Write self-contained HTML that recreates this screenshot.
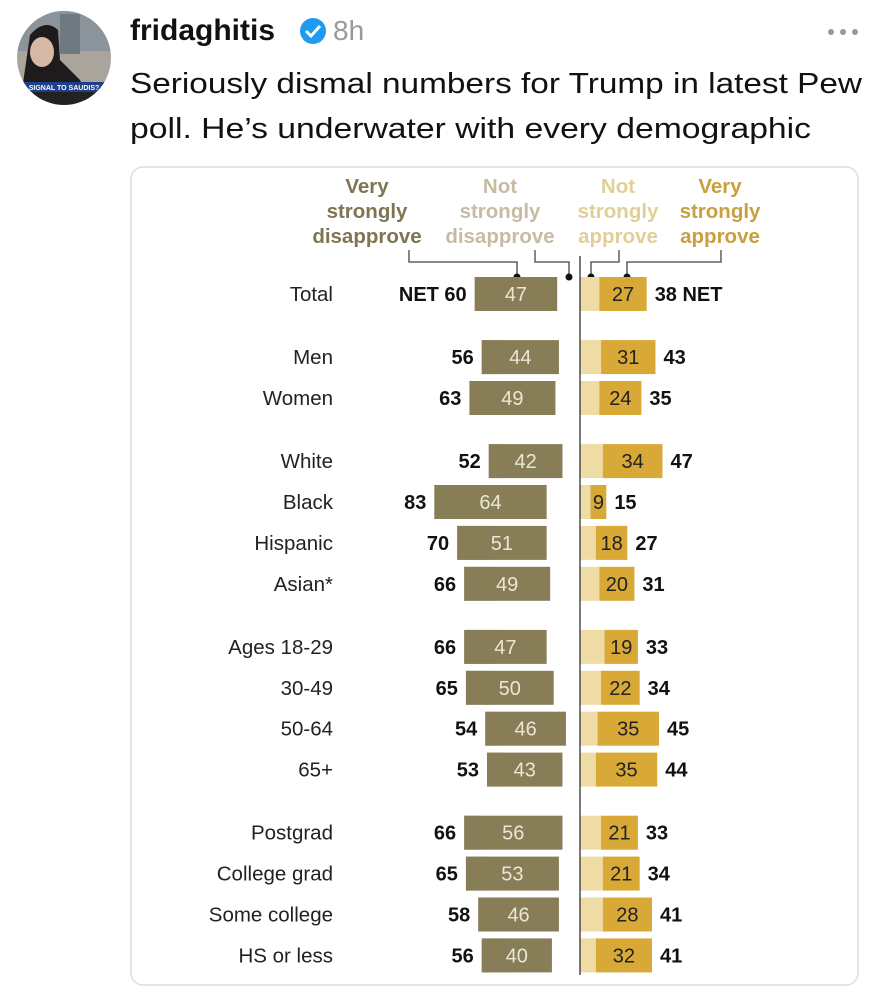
<!DOCTYPE html>
<html><head><meta charset="utf-8"><style>
html,body{margin:0;padding:0;background:#fff;}
svg{display:block;font-family:"Liberation Sans",sans-serif;}
</style></head><body>
<svg id="root" width="893" height="1000" viewBox="0 0 893 1000">
  <defs><clipPath id="av"><circle cx="64" cy="58" r="47"/></clipPath></defs>
  <g clip-path="url(#av)">
    <rect x="17" y="11" width="94" height="94" fill="#a9a49c"/>
    <rect x="17" y="11" width="94" height="40" fill="#8b949a"/>
    <rect x="60" y="14" width="20" height="40" fill="#6f7a80"/>
    <path d="M22 90 L30 35 Q45 18 58 30 L60 60 L80 80 L90 100 L20 100Z" fill="#1d1b1c"/>
    <ellipse cx="42" cy="52" rx="12" ry="15" fill="#d7b8a4"/>
    <rect x="17" y="82" width="94" height="10" fill="#1e3f8a"/>
    <text x="64" y="90" font-size="7" fill="#fff" text-anchor="middle" font-weight="bold">SIGNAL TO SAUDIS?</text>
    <rect x="17" y="92" width="94" height="13" fill="#222"/>
  </g>
  <text x="130" y="40" font-size="30" font-weight="bold" fill="#111">fridaghitis</text>
  <g>
    <circle cx="313" cy="31" r="13" fill="#1d9bf0"/>
    <path d="M306 31 l5 5 l9 -10" stroke="#fff" stroke-width="3" fill="none"/>
  </g>
  <text x="333" y="40" font-size="28" fill="#999">8h</text>
  <g fill="#999">
    <circle cx="831" cy="32" r="3"/><circle cx="843" cy="32" r="3"/><circle cx="855" cy="32" r="3"/>
  </g>
  <text x="130" y="93" font-size="29" fill="#111" textLength="732" lengthAdjust="spacingAndGlyphs">Seriously dismal numbers for Trump in latest Pew</text>
  <text x="130" y="138" font-size="29" fill="#111" textLength="681" lengthAdjust="spacingAndGlyphs">poll. He’s underwater with every demographic</text>
  <rect x="131" y="167" width="727" height="818" rx="12" fill="#fff" stroke="#dedede" stroke-width="1.5"/>

  <g font-weight="bold" font-size="20.5" text-anchor="middle">
    <text fill="#7e7652"><tspan x="367" y="193">Very</tspan><tspan x="367" y="218">strongly</tspan><tspan x="367" y="243">disapprove</tspan></text>
    <text fill="#c6bca3"><tspan x="500" y="193">Not</tspan><tspan x="500" y="218">strongly</tspan><tspan x="500" y="243">disapprove</tspan></text>
    <text fill="#e2cf97"><tspan x="618" y="193">Not</tspan><tspan x="618" y="218">strongly</tspan><tspan x="618" y="243">approve</tspan></text>
    <text fill="#c9a03f"><tspan x="720" y="193">Very</tspan><tspan x="720" y="218">strongly</tspan><tspan x="720" y="243">approve</tspan></text>
    <g stroke="#444" stroke-width="1.3" fill="none">
      <path d="M409 250 V262 H517 V276"/>
      <path d="M535 250 V262 H569 V276"/>
      <path d="M619 250 V262 H591 V276"/>
      <path d="M721 250 V262 H627 V276"/>
    </g>
    <g fill="#111"><circle cx="517" cy="277" r="3.5"/><circle cx="569" cy="277" r="3.5"/><circle cx="591" cy="277" r="3.5"/><circle cx="627" cy="277" r="3.5"/></g>
  </g>
  <g id="chart"></g>
</svg>
<script>
const categories = ["Total","Men","Women","White","Black","Hispanic","Asian*","Ages 18-29","30-49","50-64","65+","Postgrad","College grad","Some college","HS or less"];
const netDisapprove = [60,56,63,52,83,70,66,66,65,54,53,66,65,58,56];
const veryDisapprove = [47,44,49,42,64,51,49,47,50,46,43,56,53,46,40];
const veryApprove = [27,31,24,34,9,18,20,19,22,35,35,21,21,28,32];
const netApprove = [38,43,35,47,15,27,31,33,34,45,44,33,34,41,41];
const groupOf = [0,1,1,2,2,2,2,3,3,3,3,4,4,4,4];

const NS = "http://www.w3.org/2000/svg";
const cx = 580, k = 1.755, barH = 34;
const x = v => v * k;
const g = document.getElementById('chart');
function mk(tag, attrs, txt) {
  const e = document.createElementNS(NS, tag);
  for (const a in attrs) e.setAttribute(a, attrs[a]);
  if (txt !== undefined) e.textContent = txt;
  g.appendChild(e);
  return e;
}
const rowYs = categories.map((c, i) => 294 + i * 40.9 + groupOf[i] * 22.2);
categories.forEach((c, i) => {
  const y = rowYs[i];
  const top = y - barH / 2;
  const nd = x(netDisapprove[i]), vd = x(veryDisapprove[i]);
  const na = x(netApprove[i]), va = x(veryApprove[i]);
  let e;
  e = mk('text', {x: 333, y: y + 7, 'font-size': 20.5, fill: '#222', 'text-anchor': 'end'}, c);
  
  
  e = mk('rect', {x: cx - nd, y: top, width: nd - vd, height: barH, fill: '#c8bfa6'});
  
  
  e = mk('rect', {x: cx - nd, y: top, width: vd, height: barH, fill: '#877d57'});
  
  
  e = mk('rect', {x: cx, y: top, width: na - va, height: barH, fill: '#efdca5'});
  
  
  e = mk('rect', {x: cx + na - va, y: top, width: va, height: barH, fill: '#d8a937'});
  
  
  e = mk('text', {x: cx - nd + vd / 2, y: y + 7, 'font-size': 20, fill: '#ece6d4', 'text-anchor': 'middle'}, veryDisapprove[i]);
  
  
  e = mk('text', {x: cx + na - va / 2, y: y + 7, 'font-size': 20, fill: '#222', 'text-anchor': 'middle'}, veryApprove[i]);
  
  
  e = mk('text', {x: cx - nd - 8, y: y + 7, 'font-size': 20, 'font-weight': 'bold', fill: '#111', 'text-anchor': 'end'}, (i === 0 ? 'NET ' : '') + netDisapprove[i]);
  
  
  e = mk('text', {x: cx + na + 8, y: y + 7, 'font-size': 20, 'font-weight': 'bold', fill: '#111'}, netApprove[i] + (i === 0 ? ' NET' : ''));
  
  
});
const axis = mk('line', {x1: cx, y1: 256, x2: cx, y2: 975, stroke: '#333', 'stroke-width': 1.3});


</script>
</body></html>
